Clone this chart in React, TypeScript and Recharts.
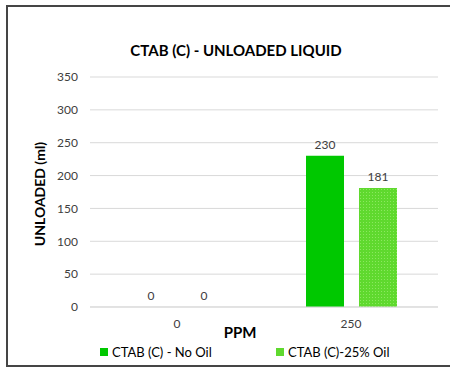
import React from 'react';
import { BarChart, Bar, XAxis, YAxis, CartesianGrid, LabelList, Legend, Customized } from 'recharts';

const categories = ['0', '250'];
const noOil = [0, 230];
const oil25 = [0, 181];
const yTicks = [0, 50, 100, 150, 200, 250, 300, 350];

const data = categories.map((ppm, i) => ({ ppm, noOil: noOil[i], oil25: oil25[i] }));

const FONT = 'Lato, "Open Sans", sans-serif';
const DARK_GREEN = '#00C800';
const LIGHT_GREEN = '#5FD92E';

const Titles = () => (
    <g fontFamily={FONT} fontWeight="bold" fill="#000">
        <text x={236} y={56} textAnchor="middle" fontSize={15}>CTAB (C) - UNLOADED LIQUID</text>
        <text x={0} y={0} textAnchor="middle" fontSize={14} transform="translate(45,194) rotate(-90)">UNLOADED (ml)</text>
        <text x={240} y={338} textAnchor="middle" fontSize={15}>PPM</text>
    </g>
);

const LegendBox = () => (
    <div style={{ position: 'relative', height: 20, fontFamily: FONT, fontSize: 13, color: '#000' }}>
        <div style={{ position: 'absolute', left: 100, top: 0, display: 'flex', alignItems: 'center' }}>
            <span style={{ width: 8, height: 8, background: DARK_GREEN, marginRight: 4 }} />
            <span>CTAB (C) - No Oil</span>
        </div>
        <div style={{ position: 'absolute', left: 276, top: 0, display: 'flex', alignItems: 'center' }}>
            <span style={{ width: 8, height: 8, background: LIGHT_GREEN, marginRight: 4 }} />
            <span>CTAB (C)-25% Oil</span>
        </div>
    </div>
);

export default function App() {
    return (
        <div style={{ position: 'fixed', left: 0, top: 0, width: 450, height: 371, background: '#fff', overflow: 'hidden' }}>
            <div style={{ position: 'absolute', left: 6, top: 5, width: 470, height: 358, border: '2px solid #454545' }} />
            <div style={{ position: 'absolute', left: 0, top: 0 }}>
                <BarChart
                    width={450}
                    height={371}
                    data={data}
                    margin={{ top: 77, right: 12, bottom: 24, left: 0 }}
                    barSize={38}
                    barGap={15}
                    barCategoryGap={41}
                >
                    <defs>
                        <pattern id="dots" width="3" height="3" patternUnits="userSpaceOnUse">
                            <rect width="3" height="3" fill={LIGHT_GREEN} />
                            <rect x="0" y="0" width="1" height="1" fill="#8BE85F" />
                        </pattern>
                    </defs>
                    <CartesianGrid vertical={false} stroke="#D9D9D9" />
                    <XAxis
                        dataKey="ppm"
                        axisLine={{ stroke: '#D9D9D9' }}
                        tickLine={false}
                        tickMargin={6}
                        height={20}
                        tick={{ fill: '#404040', fontSize: 12, fontFamily: FONT }}
                    />
                    <YAxis
                        domain={[0, 350]}
                        ticks={yTicks}
                        width={90}
                        axisLine={false}
                        tickLine={false}
                        tickMargin={6}
                        tick={{ fill: '#404040', fontSize: 12, fontFamily: FONT }}
                    />
                    <Legend verticalAlign="bottom" height={20} wrapperStyle={{ left: 0, top: 344, width: 450 }} content={() => <LegendBox />} />
                    <Bar dataKey="noOil" name="CTAB (C) - No Oil" fill={DARK_GREEN} minPointSize={0.01} isAnimationActive={false}>
                        <LabelList dataKey="noOil" position="top" offset={7} fill="#404040" fontSize={12} fontFamily={FONT} />
                    </Bar>
                    <Bar dataKey="oil25" name="CTAB (C)-25% Oil" fill="url(#dots)" minPointSize={0.01} isAnimationActive={false}>
                        <LabelList dataKey="oil25" position="top" offset={7} fill="#404040" fontSize={12} fontFamily={FONT} />
                    </Bar>
                    <Customized component={Titles} />
                </BarChart>
            </div>
        </div>
    );
}
